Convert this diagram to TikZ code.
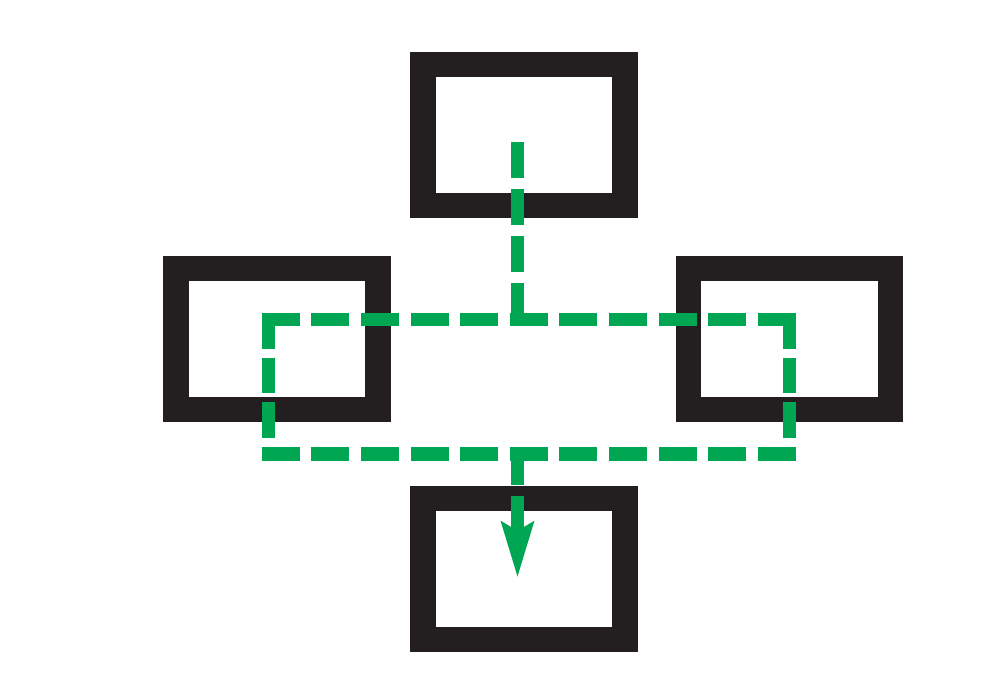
\documentclass[tikz,border=0pt]{standalone}
\usetikzlibrary{arrows.meta}
\definecolor{boxblack}{HTML}{231F20}
\definecolor{flowgreen}{HTML}{00A651}
\begin{document}
\begin{tikzpicture}[x=0.5pt,y=0.5pt,
  room/.style={draw=boxblack,line width=12.65pt,minimum width=101pt,minimum height=70.5pt,inner sep=0pt},
  flow/.style={draw=flowgreen,line width=6.75pt},
  ext/.style={shorten <=-3.375pt,shorten >=-3.375pt}]
  \useasboundingbox (0,0) rectangle (991,690);
  % boxes
  \node[room] (T) at (524,555) {};
  \node[room] (L) at (277,351) {};
  \node[room] (R) at (789.5,351) {};
  \node[room] (B) at (524,121) {};
  % route points
  \coordinate (S)  at (517.5,548);
  \coordinate (J)  at (517.5,370.3);
  \coordinate (TL) at (268.5,370.3);
  \coordinate (TR) at (789.5,370.3);
  \coordinate (BL) at (268.5,236);
  \coordinate (BR) at (789.5,236);
  \coordinate (K)  at (517.5,236);
  \coordinate (E)  at (517.5,112);
  % dashed route
  \draw[flow,dash pattern=on 18pt off 5.5pt] (S)--(J);            % down from top
  \draw[flow,ext,dash pattern=on 19pt off 5.8pt] (TL)--(TR);      % upper run
  \draw[flow,ext,dash pattern=on 19pt off 5.8pt] (BL)--(BR);      % lower run
  \draw[flow,ext,dash pattern=on 17.85pt off 4.5pt] (TL)--(BL);   % left side
  \draw[flow,ext,dash pattern=on 17.85pt off 4.5pt] (TR)--(BR);   % right side
  \draw[flow,dash pattern=on 15.5pt off 5.5pt on 200pt off 0pt,
        -{Stealth[length=27.5pt,width=15.5pt,inset=4pt]}] (K)--(E); % into bottom
\end{tikzpicture}
\end{document}
